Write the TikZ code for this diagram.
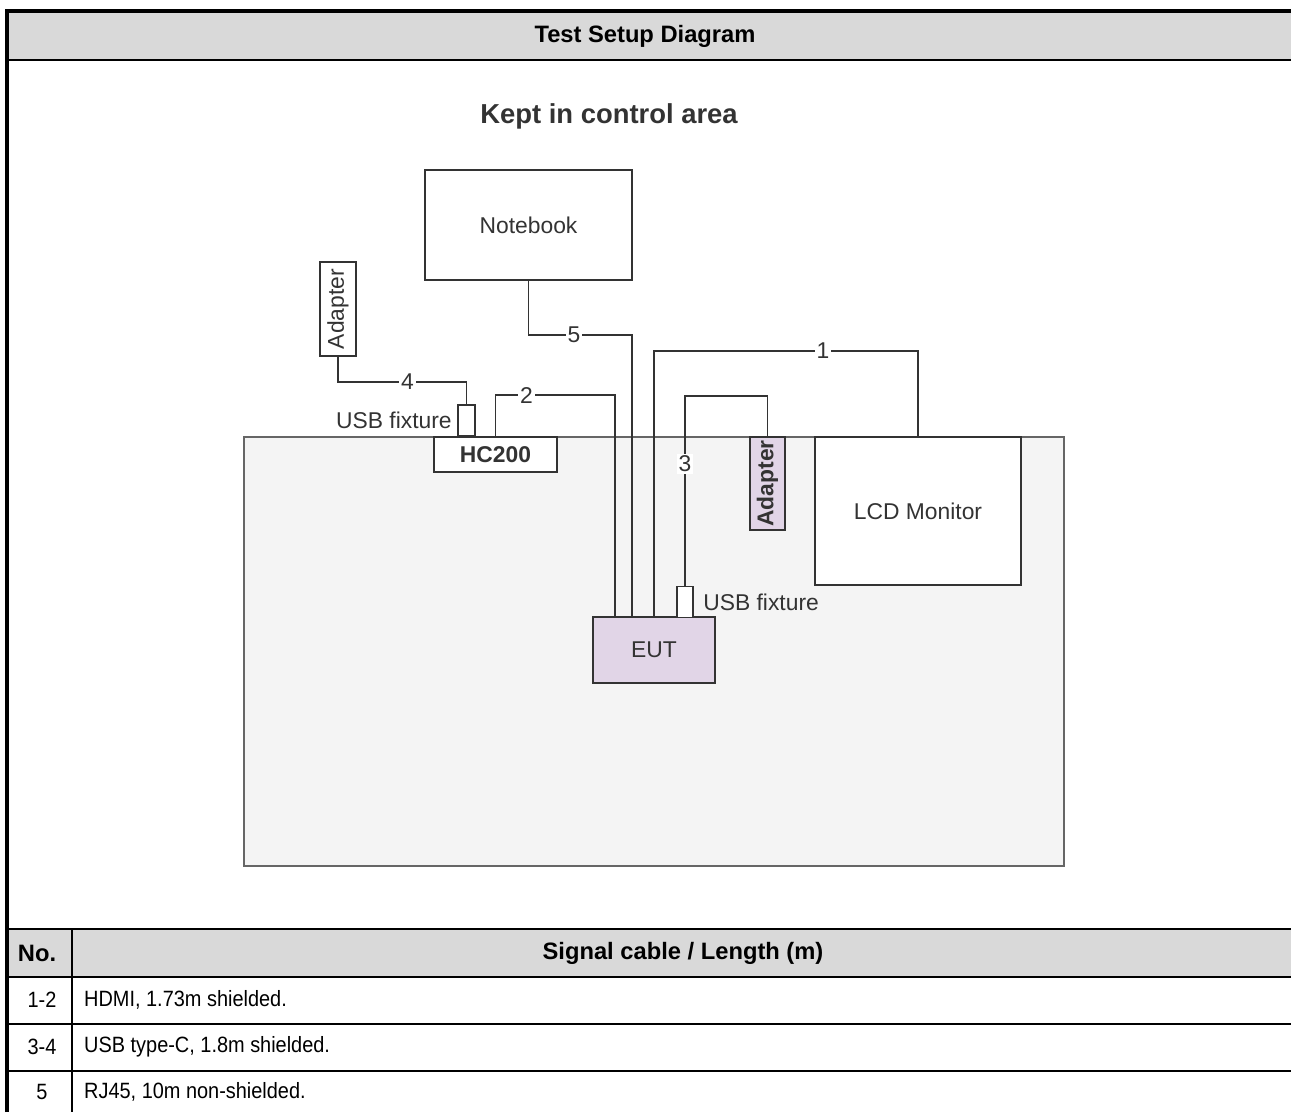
\documentclass[tikz,border=0pt]{standalone}
\usepackage{fontspec}
\usetikzlibrary{positioning}
\setmainfont{Liberation Sans}
\newfontfamily\tabfont[FakeStretch=0.9]{Liberation Sans}
\definecolor{hdrgray}{HTML}{D9D9D9}
\definecolor{benchfill}{HTML}{F4F4F4}
\definecolor{benchline}{HTML}{666666}
\definecolor{boxline}{HTML}{333333}
\definecolor{boxtext}{HTML}{333333}
\definecolor{eutfill}{HTML}{E1D5E7}
\begin{document}
\begin{tikzpicture}[x=0.02cm,y=-0.02cm,
  itm/.style={draw=boxline,line width=1.1pt,fill=white,text=boxtext,inner sep=0pt,font=\fontsize{13}{15}\selectfont},
  fix/.style={itm,minimum width=0.33cm,minimum height=0.62cm},
  cbl/.style={draw=boxline,line width=1.1pt},
  lbl/.style={fill=white,inner sep=1pt,text=boxtext,font=\fontsize{13}{15}\selectfont},
  tline/.style={line width=1.1pt},
  ttxt/.style={font=\tabfont\fontsize{12.6}{14}\selectfont},
  thdr/.style={font=\fontsize{13.5}{15}\selectfont\bfseries}]
\useasboundingbox (0,0) rectangle (1291,1112);
% frame and title row
\fill[hdrgray] (9,13) rectangle (1291,59);
\node[thdr] (ttl) at (645,36) {Test Setup Diagram};
\draw[line width=2.3pt] (7,1112) -- (7,11) -- (1291,11);
\draw[tline] (9,60) -- (1291,60);
% bench
\draw[draw=benchline,fill=benchfill,line width=1.4pt] (244,437) rectangle (1064,866);
\node[font=\fontsize{15.6}{17}\selectfont\bfseries,text=boxtext] (kept) at (609,116) {Kept in control area};
% devices
\node[itm,minimum width=4.14cm,minimum height=2.2cm] (nb) at (528.5,225) {Notebook};
\node[itm,minimum width=0.72cm,minimum height=1.88cm] (adl) at (338,309) {\rotatebox{90}{Adapter}};
\node[itm,minimum width=2.46cm,minimum height=0.7cm,font=\fontsize{13}{15}\selectfont\bfseries] (hc) at (495.5,454.5) {HC200};
\node[fix] (usbl) at (466.5,420.5) {};
\node[itm,fill=eutfill,minimum width=0.7cm,minimum height=1.86cm,font=\fontsize{13}{15}\selectfont\bfseries] (adr) at (767.5,483.5) {\rotatebox{90}{Adapter}};
\node[itm,minimum width=4.12cm,minimum height=2.96cm] (lcd) at (918,511) {LCD Monitor};
\node[itm,fill=eutfill,minimum width=2.44cm,minimum height=1.32cm] (eut) at (654,650) {EUT};
\node[fix] (usbr) at (685,602) {};
\node[lbl,fill=none,left=2pt of usbl.west] (usbltxt) {USB fixture};
\node[lbl,fill=none,right=4pt of usbr.east] (usbrtxt) {USB fixture};
% cables
\draw[cbl] (nb.south) -- ++(0,54) -| ([xshift=0.8cm]eut.north west) node[lbl,pos=0.22] {5};
\draw[cbl] (eut.north) -- ++(0,-265) -| (lcd.north) node[lbl,pos=0.32] {1};
\draw[cbl] (hc.north) -- ++(0,-41) -| ([xshift=0.46cm]eut.north west) node[lbl,pos=0.13] {2};
\draw[cbl] (adl.south) -- ++(0,25) -| (usbl.north) node[lbl,pos=0.27] {4};
\draw[cbl] (usbr.north) -- ++(0,-190) node[lbl,pos=0.64] {3} -| (adr.north);
% cable table
\fill[hdrgray] (9,929) rectangle (1291,977);
\draw[line width=0.6pt] (9,929) -- (1291,929);
\draw[tline] (9,977) -- (1291,977);
\draw[tline] (9,1024) -- (1291,1024);
\draw[tline] (9,1071) -- (1291,1071);
\draw[line width=0.6pt] (72,929) -- (72,1112);
\node[thdr] (hno) at (37,953) {No.};
\node[thdr] (hcab) at (683,953) {Signal cable / Length (m)};
\node[ttxt] (n1) at (42,1000) {1-2};
\node[ttxt] (n2) at (42,1047) {3-4};
\node[ttxt] (n3) at (42,1092) {5};
\node[ttxt,anchor=west] (r1) at (78,1000) {HDMI, 1.73m shielded.};
\node[ttxt,anchor=west] (r2) at (78,1047) {USB type-C, 1.8m shielded.};
\node[ttxt,anchor=west] (r3) at (78,1092) {RJ45, 10m non-shielded.};
\end{tikzpicture}
\end{document}
